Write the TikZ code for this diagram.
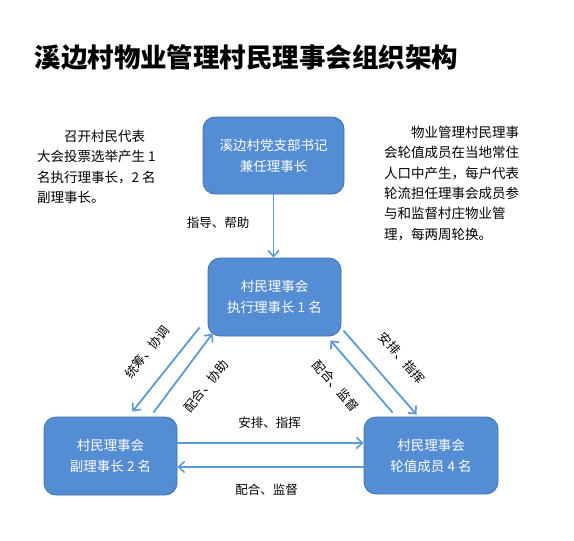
\documentclass[tikz,border=0pt]{standalone}
\usepackage{fontspec}
\setmainfont{Noto Sans CJK SC}
\usetikzlibrary{arrows.meta,calc}
\definecolor{boxfill}{RGB}{84,141,212}
\definecolor{boxdraw}{RGB}{65,113,170}
\definecolor{arrcol}{RGB}{91,155,213}
\tikzset{
  box/.style={draw=boxdraw, line width=0.8pt, fill=boxfill, rounded corners=12pt, text=white, align=center, font=\fontsize{13.5}{21}\selectfont},
  arr/.style={draw=arrcol, line width=1.8pt, -{Straight Barb[length=6pt,width=11pt,line width=1.6pt]}},
  lbl/.style={font=\fontsize{12.5}{14}\selectfont, inner sep=0pt},
  note/.style={font=\fontsize{13.5}{20.3}\selectfont, align=left, inner sep=0pt, anchor=north west}
}
\begin{document}
\begin{tikzpicture}[x=1pt,y=-1pt]
\useasboundingbox (0,0) rectangle (574,541);
\node[font=\fontsize{26.5}{30}\selectfont\bfseries, inner sep=0pt] (title) at (246.5,57.5) {溪边村物业管理村民理事会组织架构};

\node[box, minimum width=141pt, minimum height=77pt] (top) at (273.5,155.5) {溪边村党支部书记\\兼任理事长};
\node[box, minimum width=133pt, minimum height=78pt] (mid) at (274.5,297) {村民理事会\\执行理事长 1 名};
\node[box, minimum width=133pt, minimum height=78pt] (left) at (110.5,456) {村民理事会\\副理事长 2 名};
\node[box, minimum width=134pt, minimum height=77pt] (right) at (431,455.5) {村民理事会\\轮值成员 4 名};

\node[note] (ln) at (37,130) {\hspace*{2em}召开村民代表\\大会投票选举产生 1\\名执行理事长，2 名\\副理事长。};
\node[note] (rn) at (384,126) {\hspace*{2em}物业管理村民理事\\会轮值成员在当地常住\\人口中产生，每户代表\\轮流担任理事会成员参\\与和监督村庄物业管\\理，每两周轮换。};

\draw[arr] (top.south) -- (top.south |- mid.north);
\node[lbl] (l1) at (218,223) {指导、帮助};

\draw[arr] ($(mid.south west)+(-8,-9)$) -- ($(left.north east)+(-45,-5)$);
\draw[arr] ($(left.north east)+(-24,-4)$) -- ($(mid.south west)+(5,-3)$);
\node[lbl, rotate=51] (l2) at (147,352) {统筹、协调};
\node[lbl, rotate=51] (l3) at (206,386) {配合、协助};

\draw[arr] ($(mid.south east)+(2,-6)$) -- ($(right.north west)+(53,-2)$);
\draw[arr] ($(right.north west)+(29,-4)$) -- ($(mid.south east)+(-11,4)$);
\node[lbl, rotate=-49] (l4) at (402,358) {安排、指挥};
\node[lbl, rotate=-49] (l5) at (336,386) {配合、监督};

\draw[arr] ([yshift=13pt]left.east) -- ([yshift=13pt]left.east -| right.west);
\draw[arr] ([yshift=-11pt]left.east -| right.west) -- ([yshift=-11pt]left.east);
\node[lbl] (l6) at (269.5,423) {安排、指挥};
\node[lbl] (l7) at (266.5,490) {配合、监督};
\end{tikzpicture}
\end{document}
